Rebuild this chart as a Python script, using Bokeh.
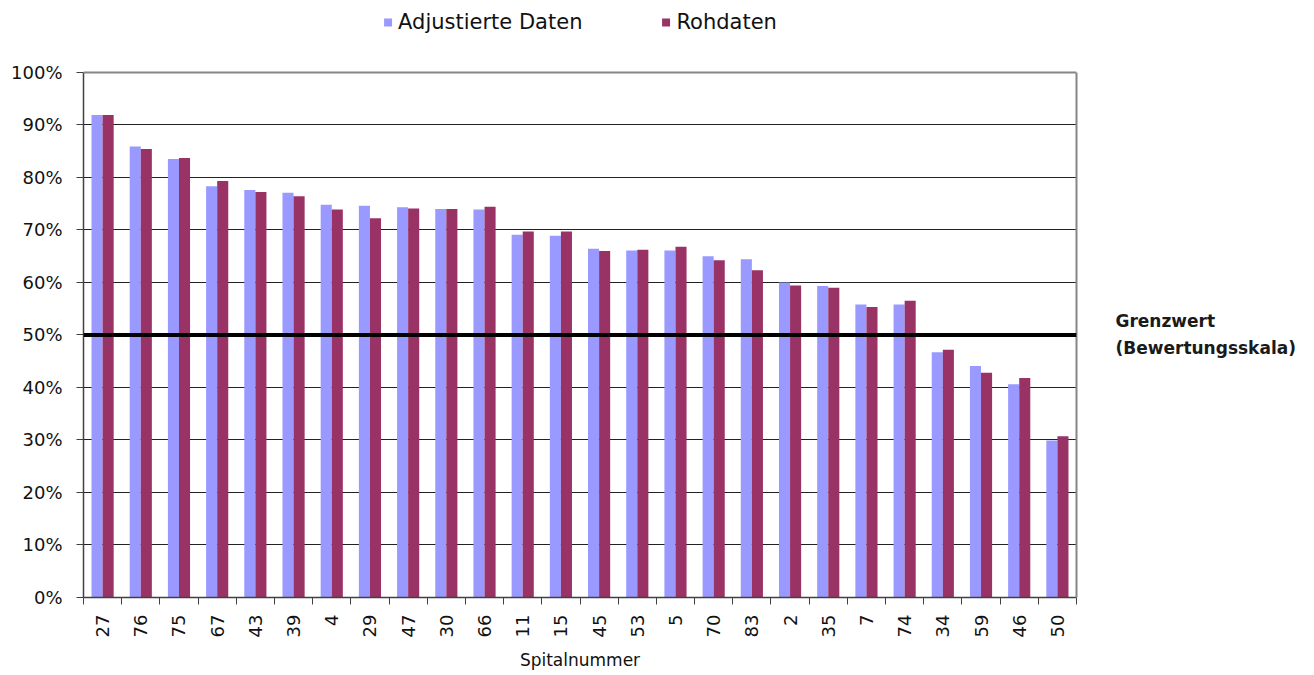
import math
from bokeh.plotting import figure
from bokeh.models import (ColumnDataSource, Range1d, FixedTicker, PrintfTickFormatter,
                          Span, Legend, LegendItem, LinearAxis)
from bokeh.transform import dodge
from bokeh.embed import file_html
from bokeh.resources import INLINE

spital = ["27", "76", "75", "67", "43", "39", "4", "29", "47", "30", "66", "11", "15",
          "45", "53", "5", "70", "83", "2", "35", "7", "74", "34", "59", "46", "50"]
adjustiert = [91.9, 85.9, 83.5, 78.3, 77.6, 77.1, 74.8, 74.6, 74.3, 74.0, 73.9, 69.1, 68.9,
              66.4, 66.1, 66.1, 65.0, 64.4, 60.0, 59.3, 55.8, 55.8, 46.7, 44.1, 40.6, 29.9]
rohdaten = [91.9, 85.4, 83.7, 79.3, 77.2, 76.4, 73.9, 72.2, 74.1, 74.0, 74.4, 69.7, 69.7,
            66.0, 66.2, 66.8, 64.2, 62.3, 59.4, 59.0, 55.3, 56.5, 47.2, 42.8, 41.8, 30.7]
grenzwert = 50
grenz_text = "Grenzwert\n(Bewertungsskala)"
y_ticks = list(range(0, 101, 10))

FONT = "DejaVu Sans"
n = len(spital)
pos = list(range(n))
src = ColumnDataSource(dict(x=pos, adj=adjustiert, roh=rohdaten))

# layout: plot area (0..100 %) is 526 px tall; 72 px of headroom above it for the legend
PLOT_H, HEAD = 526, 72
y_top = y_ticks[-1] * (PLOT_H + HEAD) / PLOT_H

p = figure(width=1308, height=673, output_backend="svg", toolbar_location=None,
           x_range=Range1d(-0.5, n - 0.5), y_range=Range1d(0, y_top),
           min_border_left=83, min_border_right=232, min_border_top=0, min_border_bottom=75)

r1 = p.vbar(x=dodge("x", -0.145), top="adj", width=0.29, source=src,
            fill_color="#9999FF", line_color=None)
r2 = p.vbar(x=dodge("x", 0.145), top="roh", width=0.29, source=src,
            fill_color="#993366", line_color=None)

# top border of the plot area at 100 %
p.add_layout(Span(location=y_ticks[-1], dimension="width", line_color="#868686", line_width=2))
# threshold line
p.add_layout(Span(location=grenzwert, dimension="width", line_color="black", line_width=4))

# right border + label for the threshold line, as a right-hand axis with one tick
raxis = LinearAxis(ticker=FixedTicker(ticks=[grenzwert]), bounds=(0, y_ticks[-1]),
                   major_label_overrides={grenzwert: grenz_text},
                   axis_line_color="#868686", axis_line_width=2,
                   major_tick_line_color=None, minor_tick_line_color=None,
                   major_label_standoff=33, major_label_text_font=FONT,
                   major_label_text_font_size="17px", major_label_text_font_style="bold",
                   major_label_text_color="#1a1a1a", major_label_text_line_height=1.35)
p.add_layout(raxis, "right")

# x axis
boundaries = [i - 0.5 for i in range(n + 1)]
p.xaxis.ticker = FixedTicker(ticks=pos, minor_ticks=boundaries)
p.xaxis.major_label_overrides = {i: s for i, s in enumerate(spital)}
p.xaxis.major_label_orientation = math.pi / 2
p.xaxis.major_tick_in = 0
p.xaxis.major_tick_out = 0
p.xaxis.minor_tick_in = 0
p.xaxis.minor_tick_out = 7
p.xaxis.minor_tick_line_color = "#404040"
p.xaxis.major_label_standoff = 10
p.xaxis.axis_label = "Spitalnummer"
p.xaxis.axis_label_standoff = 10

# y axis
ya = p.yaxis[0]
ya.ticker = FixedTicker(ticks=y_ticks)
ya.bounds = (0, y_ticks[-1])
ya.formatter = PrintfTickFormatter(format="%d%%")
ya.major_tick_in = 0
ya.major_tick_out = 7
ya.minor_tick_out = 0
ya.minor_tick_in = 0
ya.major_label_standoff = 14
ya.major_tick_line_color = "#404040"

for ax in (p.xaxis[0], ya):
    ax.axis_line_color = "#404040"
    ax.axis_line_width = 1.5
    ax.major_label_text_font = FONT
    ax.major_label_text_font_size = "18px"
    ax.major_label_text_color = "#111111"
    ax.axis_label_text_font = FONT
    ax.axis_label_text_font_size = "17px"
    ax.axis_label_text_font_style = "normal"
    ax.axis_label_text_color = "#111111"

p.xgrid.visible = False
p.ygrid.ticker = FixedTicker(ticks=y_ticks[1:-1])
p.ygrid.grid_line_color = "#222222"
p.ygrid.grid_line_width = 1

p.outline_line_color = None
p.background_fill_color = "white"
p.border_fill_color = "white"

legend = Legend(items=[LegendItem(label="Adjustierte Daten", renderers=[r1]),
                       LegendItem(label="Rohdaten", renderers=[r2])],
                orientation="horizontal", location="top_center",
                label_text_font=FONT, label_text_font_size="21px", label_text_color="#111111",
                glyph_width=10, glyph_height=10, label_standoff=6, spacing=78,
                padding=0, margin=10, border_line_color=None, background_fill_alpha=0,
                label_height=20)
p.add_layout(legend, "center")

open("out.html", "w").write(file_html(p, INLINE))
